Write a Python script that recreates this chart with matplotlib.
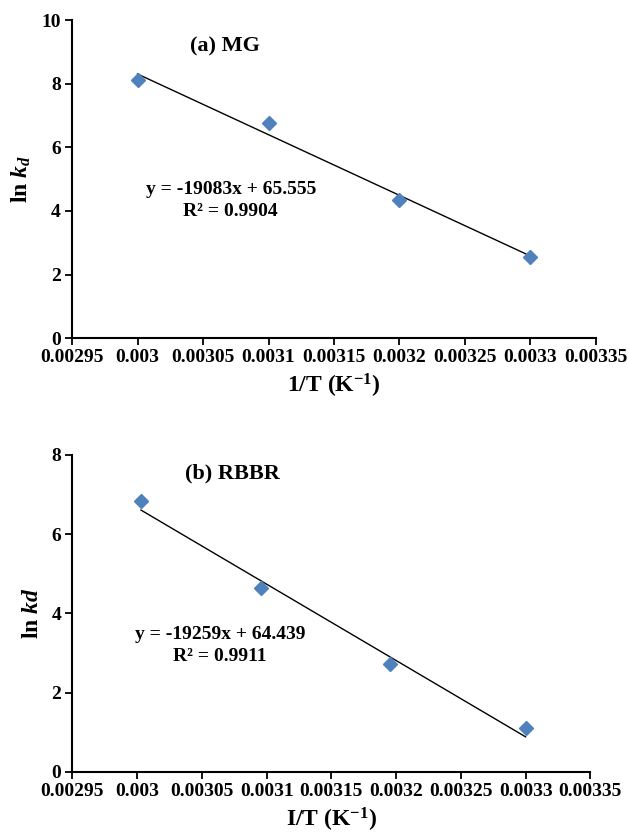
import matplotlib.pyplot as plt
import numpy as np

plt.rcParams['font.family'] = 'Liberation Serif'
plt.rcParams['font.weight'] = 'bold'
plt.rcParams['mathtext.fontset'] = 'custom'
plt.rcParams['mathtext.rm'] = 'Liberation Serif:bold'
plt.rcParams['mathtext.it'] = 'Liberation Serif:italic:bold'
plt.rcParams['mathtext.bf'] = 'Liberation Serif:bold'

# (a) MG
mg_x = [0.0030, 0.0031, 0.0032, 0.0033]
mg_y = [8.12, 6.75, 4.34, 2.56]
mg_slope, mg_icpt, mg_r2 = -19083, 65.555, 0.9904

# (b) RBBR
rb_x = [0.003003, 0.003096, 0.003195, 0.003300]
rb_y = [6.84, 4.63, 2.73, 1.10]
rb_slope, rb_icpt, rb_r2 = -19259, 64.439, 0.9911

xticks = [0.00295, 0.003, 0.00305, 0.0031, 0.00315, 0.0032, 0.00325, 0.0033, 0.00335]
xtick_labels = ['0.00295', '0.003', '0.00305', '0.0031', '0.00315', '0.0032', '0.00325', '0.0033', '0.00335']

blue = '#4F81BD'
fig = plt.figure(figsize=(6.29, 8.39), dpi=100)


def panel(ax, x, y, slope, icpt, r2, ymax, ylab, xlab, title, tpos, epos, rpos):
    ax.plot(x, y, 'D', color=blue, markersize=7, zorder=3)
    xl = np.array([x[0], x[-1]])
    ax.plot(xl, slope * xl + icpt, color='black', linewidth=1)
    ax.set_xlim(0.00295, 0.00335)
    ax.set_ylim(0, ymax)
    ax.set_xticks(xticks)
    ax.set_xticklabels(xtick_labels)
    ax.set_yticks(np.arange(0, ymax + 1, 2))
    ax.tick_params(labelsize=14, length=5, width=1.3, direction='out', pad=3)
    for lbl in ax.get_xticklabels() + ax.get_yticklabels():
        lbl.set_fontweight('bold')
    for s in ['top', 'right']:
        ax.spines[s].set_visible(False)
    for s in ['left', 'bottom']:
        ax.spines[s].set_linewidth(1.5)
    ax.set_ylabel(ylab, fontsize=17, fontweight='bold', labelpad=6)
    ax.set_xlabel(xlab, fontsize=17, fontweight='bold', labelpad=4)
    ax.text(tpos[0], tpos[1], title, transform=ax.transAxes, ha='center', va='center',
            fontsize=16, fontweight='bold')
    ax.text(epos[0], epos[1], f'y = {slope}x + {icpt}', transform=ax.transAxes,
            ha='center', va='center', fontsize=14, fontweight='bold')
    ax.text(rpos[0], rpos[1], f'R² = {r2}', transform=ax.transAxes,
            ha='center', va='center', fontsize=14, fontweight='bold')


ax1 = fig.add_axes([0.1145, 0.597, 0.833, 0.379])
panel(ax1, mg_x, mg_y, mg_slope, mg_icpt, mg_r2, 10, r'ln $k_d$', r'1/T (K$^{-1}$)',
      '(a) MG', (0.291, 0.918), (0.303, 0.468), (0.303, 0.398))

ax2 = fig.add_axes([0.115, 0.080, 0.8235, 0.378])
panel(ax2, rb_x, rb_y, rb_slope, rb_icpt, rb_r2, 8, r'ln $kd$', r'I/T (K$^{-1}$)',
      '(b) RBBR', (0.31, 0.94), (0.285, 0.434), (0.285, 0.363))

fig.savefig('out.png', dpi=100)
